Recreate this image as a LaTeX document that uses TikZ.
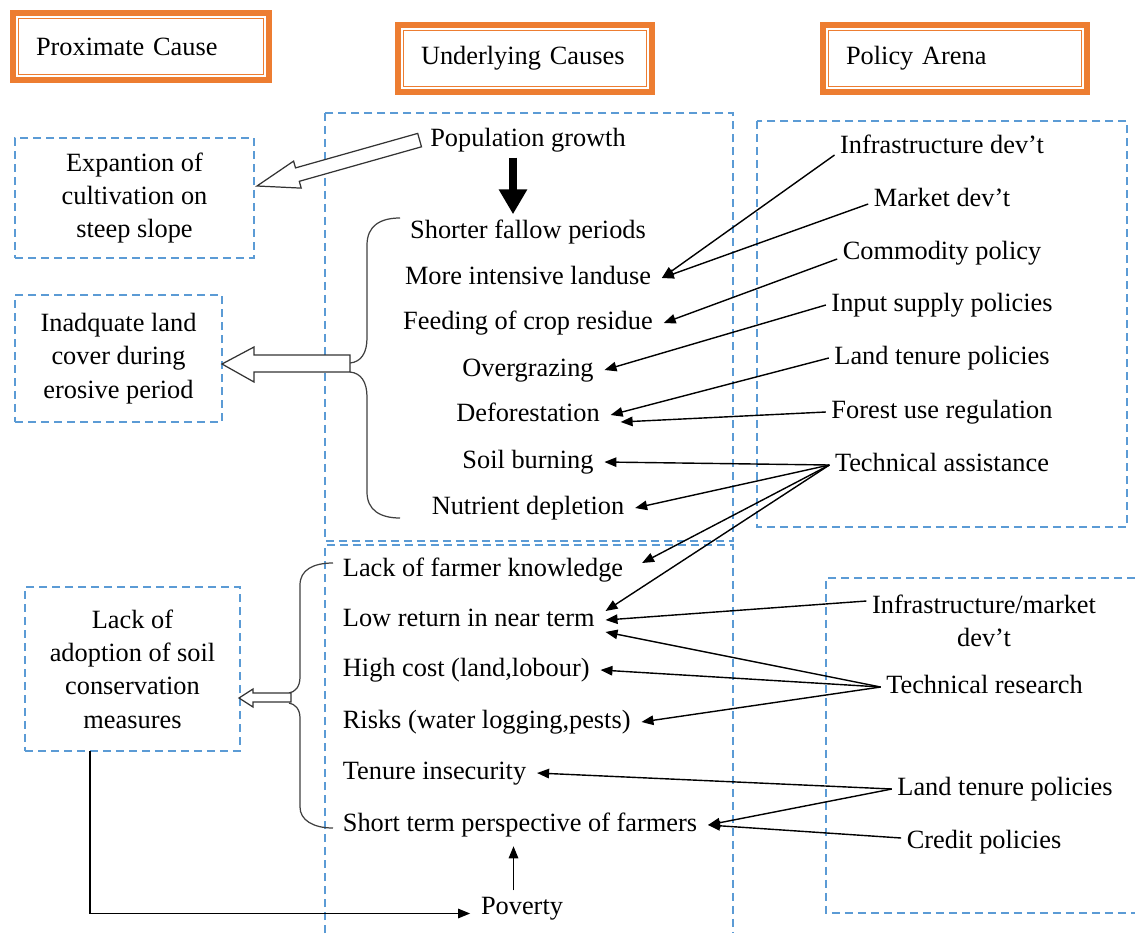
\documentclass[tikz,border=0pt]{standalone}
\usepackage{fontspec}
\setmainfont{Liberation Serif}
\usetikzlibrary{arrows.meta}
\definecolor{hdrorange}{HTML}{ED7D31}
\definecolor{boxblue}{HTML}{5B9BD5}

\begin{document}
\begin{tikzpicture}[
        x=0.02cm, y=-0.02cm,
        >={Triangle[length=2.4mm,width=1.9mm]},
        every node/.style={font=\fontsize{15pt}{19pt}\selectfont},
        header/.style={draw=hdrorange, line width=1.2mm, outer sep=0pt, minimum height=1.34cm, inner xsep=4.6mm, align=left},
        region/.style={draw=boxblue, line width=0.35mm, dash pattern=on 1.6mm off 1mm},
        effect/.style={region, align=center, inner sep=0pt, outer sep=0pt},
        item/.style={inner xsep=6pt, inner ysep=3pt, text height=10.5pt, text depth=3.3pt},
        policy/.style={item, inner xsep=3pt},
        link/.style={->, line width=0.8pt},
        bigarrow/.style={-{Triangle[length=5mm,width=5.4mm]}, line width=1.6mm},
        brace/.style={draw=black!75, line width=0.7pt},
        hollow/.style={draw=black!80, line width=0.7pt, fill=white}
    ]

        \useasboundingbox (0,0) rectangle (1135,933);

        % ==================================================
        % CABECALHOS
        % ==================================================

        \node[header, text width=4.2cm]  (prox)  at (141,46.5) {Proximate Cause};
        \node[header, text width=4.16cm] (under) at (525,58.5) {Underlying Causes};
        \node[header, text width=4.36cm] (arena) at (955,58.5) {Policy Arena};

        \foreach \h in {prox,under,arena}
            \draw[hdrorange, line width=0.2mm] ([shift={(1.1mm,-1.1mm)}]\h.north west) rectangle ([shift={(-1.1mm,1.1mm)}]\h.south east);

        % Regioes tracejadas
        \draw[region] (325,113) rectangle (733,541);
        \draw[region] (325,933) -- (325,545) -- (733,545) -- (733,933);
        \draw[region] (757,121) rectangle (1127,527);
        \draw[region] (1135,578) -- (826,578) -- (826,913) -- (1135,913);

        % ==================================================
        % PROXIMATE CAUSE
        % ==================================================

        \node[effect, minimum width=4.78cm, minimum height=2.4cm]  (expan) at (134.5,198)  {Expantion of\\cultivation on\\steep slope};
        \node[effect, minimum width=4.14cm, minimum height=2.54cm] (inad)  at (118.5,358.5) {Inadquate land\\cover during\\erosive period};
        \node[effect, minimum width=4.3cm, minimum height=3.28cm]  (adopt) at (132.5,669)  {Lack of\\adoption of soil\\conservation\\measures};

        % ==================================================
        % UNDERLYING CAUSES
        % ==================================================

        \node[item] (popg)    at (528,140) {Population growth};
        \node[item] (fallow)  at (528,232) {Shorter fallow periods};
        \node[item] (landuse) at (528,278) {More intensive landuse};
        \node[item] (residue) at (528,323) {Feeding of crop residue};
        \node[item] (overgr)  at (528,370) {Overgrazing};
        \node[item] (defor)   at (528,415) {Deforestation};
        \node[item] (burn)    at (528,462) {Soil burning};
        \node[item] (nutr)    at (528,508) {Nutrient depletion};

        \node[item, anchor=west] (know)   at (332,570) {Lack of farmer knowledge};
        \node[item, anchor=west] (lowret) at (332,620) {Low return in near term};
        \node[item, anchor=west] (cost)   at (332,670) {High cost (land,lobour)};
        \node[item, anchor=west] (risk)   at (332,722) {Risks (water logging,pests)};
        \node[item, anchor=west] (tenure) at (332,773) {Tenure insecurity};
        \node[item, anchor=west] (short)  at (332,825) {Short term perspective of farmers};

        \node[item] (pov) at (522,908) {Poverty};

        % Chaves
        \draw[brace] (400,218) .. controls (380,218) and (367,226) .. (367,245) -- (367,338) .. controls (367,353) and (361,362) .. (350,363);
        \draw[brace] (350,372) .. controls (361,373) and (367,382) .. (367,397) -- (367,492) .. controls (367,510) and (380,518) .. (400,518);
        \draw[brace] (333,563) .. controls (313,563) and (300,570) .. (300,585) -- (300,677) .. controls (300,687) and (295,692) .. (289,693);
        \draw[brace] (289,703) .. controls (295,704) and (300,709) .. (300,718) -- (300,807) .. controls (300,820) and (313,828) .. (333,828);

        % Setas vazadas
        \draw[hollow] (257,186) -- (293.6,161.1) -- (295.5,167.9) -- (417.7,133.4) -- (421.5,146.8) -- (299.3,181.3) -- (301.2,188.1) -- cycle;
        \draw[hollow] (222,364) -- (254,347) -- (254,355) -- (350,355) -- (350,372) -- (254,372) -- (254,382) -- cycle;
        \draw[hollow] (239,698) -- (253,689) -- (253,693) -- (291,693) -- (291,702) -- (253,702) -- (253,707) -- cycle;

        \draw[bigarrow] ([xshift=-3mm]popg.south) -- ([xshift=-3mm]fallow.north);

        % ==================================================
        % POLICY ARENA
        % ==================================================

        \node[policy] (infra)  at (942,147) {Infrastructure dev’t};
        \node[policy] (market) at (942,200) {Market dev’t};
        \node[policy] (commod) at (942,253) {Commodity policy};
        \node[policy] (inputs) at (942,305) {Input supply policies};
        \node[policy] (tenpol) at (942,358) {Land tenure policies};
        \node[policy] (forest) at (942,412) {Forest use regulation};
        \node[policy] (techa)  at (942,465) {Technical assistance};

        \node[align=center, inner xsep=3pt] (inframk) at (984,621) {Infrastructure/market\\dev’t};
        \node[policy] (techr)   at (984.5,687) {Technical research};
        \node[policy] (tenpol2) at (1005,789)  {Land tenure policies};
        \node[policy] (credit)  at (984,842)   {Credit policies};

        % Setas
        \draw[link] ([yshift=-1.6mm]infra.west) -- (landuse.east);
        \draw[link] ([yshift=-0.8mm]market.west) -- (landuse.east);
        \draw[link] ([yshift=-1.2mm]commod.west) -- (residue.east);
        \draw[link] (inputs.west) -- (overgr.east);
        \draw[link] (tenpol.west) -- (defor.east);
        \draw[link] (forest.west) -- ([shift={(2mm,-1.4mm)}]defor.east);
        \draw[link] (techa.west) -- (burn.east);
        \draw[link] (techa.west) -- (nutr.east);
        \draw[link] (techa.west) -- ([shift={(1.6mm,1.4mm)}]know.east);
        \draw[link] (techa.west) -- ([yshift=1.8mm]lowret.east);
        \draw[link] ([yshift=4mm]inframk.west) -- (lowret.east);
        \draw[link] (techr.west) -- ([yshift=-2.4mm]lowret.east);
        \draw[link] (techr.west) -- (cost.east);
        \draw[link] (techr.west) -- (risk.east);
        \draw[link] (tenpol2.west) -- (tenure.east);
        \draw[link] (tenpol2.west) -- (short.east);
        \draw[link] ([yshift=0.8mm]credit.west) -- (short.east);

        \draw[link] ([xshift=1.3cm]adopt.south west) |- ([yshift=-1.1mm]pov.west);
        \draw[link] ([xshift=-1.7mm]pov.north) -- ++(0,-44);

    \end{tikzpicture}
\end{document}
